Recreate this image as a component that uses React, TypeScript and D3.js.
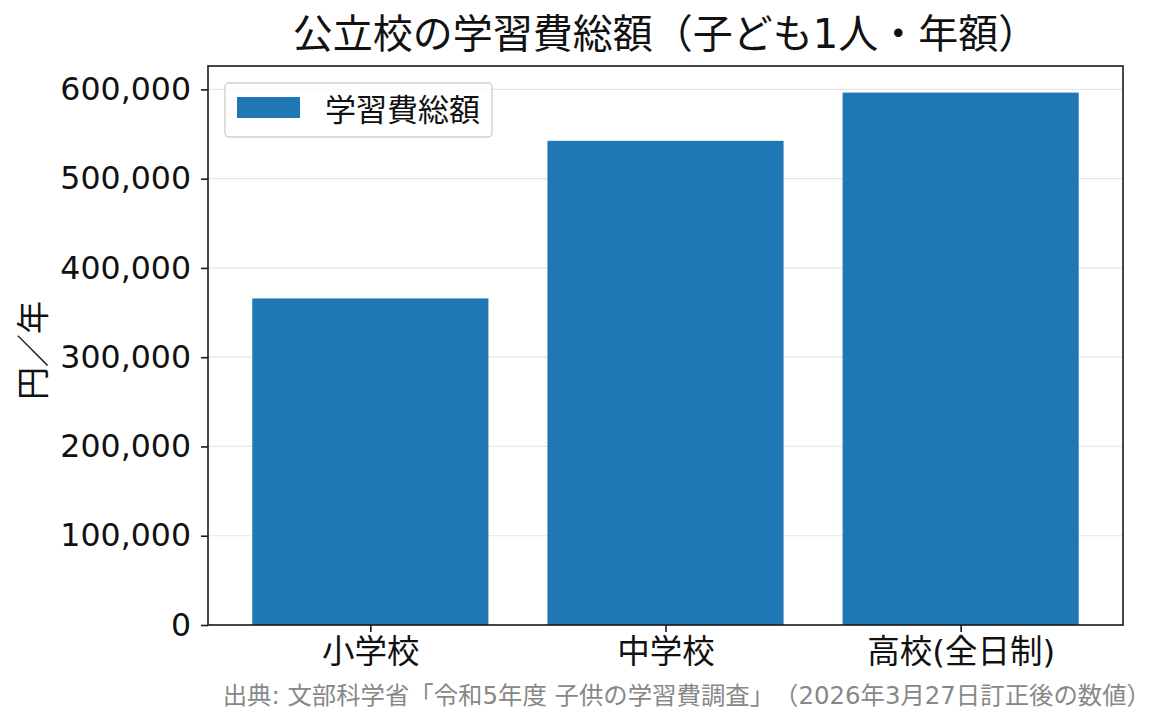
// @ts-nocheck

import React from 'react'
import * as d3 from 'd3'

const categories = ['小学校', '中学校', '高校(全日制)']
const totals = [365800, 542400, 596400]
const yTicks = [0, 100000, 200000, 300000, 400000, 500000, 600000]

const titleText = '公立校の学習費総額（子ども1人・年額）'
const yLabel = '円／年'
const legendLabel = '学習費総額'
const sourceText = '出典: 文部科学省「令和5年度 子供の学習費調査」（2026年3月27日訂正後の数値）'

const FONT = '"DejaVu Sans", "Noto Sans CJK JP", sans-serif'
const BLUE = '#1f77b4'

const App = () => {
  const svgRef = React.useRef(null)
  const width = 1165
  const height = 725
  const margin = { top: 66, right: 42, bottom: 100, left: 208 }
  const innerW = width - margin.left - margin.right
  const innerH = height - margin.top - margin.bottom

  React.useEffect(() => {
    const svgEl = d3.select(svgRef.current)
    svgEl.selectAll('*').remove()

    const xScale = d3.scaleLinear().domain([-0.55, categories.length - 0.45]).range([0, innerW])
    const yScale = d3
      .scaleLinear()
      .domain([0, d3.max(totals) * 1.05])
      .range([innerH, 0])

    svgEl.append('rect').attr('width', width).attr('height', height).attr('fill', '#fff')

    const svg = svgEl.append('g').attr('transform', `translate(${margin.left},${margin.top})`)

    // grid lines
    svg
      .selectAll('.grid')
      .data(yTicks)
      .enter()
      .append('line')
      .attr('x1', 0)
      .attr('x2', innerW)
      .attr('y1', (d) => yScale(d))
      .attr('y2', (d) => yScale(d))
      .attr('stroke', '#e6e6e6')
      .attr('stroke-width', 1.2)

    // bars
    const barW = xScale(0.8) - xScale(0)
    svg
      .selectAll('.bar')
      .data(totals)
      .enter()
      .append('rect')
      .attr('x', (d, i) => xScale(i) - barW / 2)
      .attr('y', (d) => yScale(d))
      .attr('width', barW)
      .attr('height', (d) => innerH - yScale(d))
      .attr('fill', BLUE)

    // y axis
    const yAxis = d3
      .axisLeft(yScale)
      .tickValues(yTicks)
      .tickSize(7)
      .tickPadding(10)
      .tickFormat(d3.format(','))
    const yAxisGroup = svg.append('g').call(yAxis)
    yAxisGroup.select('.domain').remove()
    yAxisGroup.selectAll('line').attr('stroke', '#1a1a1a').attr('stroke-width', 1.6)
    yAxisGroup
      .selectAll('text')
      .attr('font-family', FONT)
      .attr('font-size', 31.6)
      .attr('fill', '#111')

    // x axis
    const xAxis = d3
      .axisBottom(xScale)
      .tickValues(categories.map((c, i) => i))
      .tickSize(7)
      .tickPadding(8)
      .tickFormat((i) => categories[i])
    const xAxisGroup = svg.append('g').attr('transform', `translate(0,${innerH})`).call(xAxis)
    xAxisGroup.select('.domain').remove()
    xAxisGroup.selectAll('line').attr('stroke', '#1a1a1a').attr('stroke-width', 1.6)
    xAxisGroup
      .selectAll('text')
      .attr('font-family', FONT)
      .attr('font-size', 32.5)
      .attr('fill', '#111')

    // frame
    svg
      .append('rect')
      .attr('width', innerW)
      .attr('height', innerH)
      .attr('fill', 'none')
      .attr('stroke', '#1a1a1a')
      .attr('stroke-width', 1.6)

    // legend
    const legend = svg.append('g').attr('transform', 'translate(17,17)')
    legend
      .append('rect')
      .attr('width', 267)
      .attr('height', 54)
      .attr('rx', 4)
      .attr('fill', '#fff')
      .attr('fill-opacity', 0.8)
      .attr('stroke', '#d0d0d0')
      .attr('stroke-width', 1.4)
    legend
      .append('rect')
      .attr('x', 12)
      .attr('y', 14)
      .attr('width', 63)
      .attr('height', 21)
      .attr('fill', BLUE)
    legend
      .append('text')
      .attr('x', 100)
      .attr('y', 27)
      .attr('dy', '0.35em')
      .attr('font-family', FONT)
      .attr('font-size', 31)
      .attr('fill', '#111')
      .text(legendLabel)

    // title
    svgEl
      .append('text')
      .attr('x', margin.left + innerW / 2)
      .attr('y', 34)
      .attr('dy', '0.36em')
      .attr('text-anchor', 'middle')
      .attr('font-family', FONT)
      .attr('font-size', 40)
      .attr('fill', '#111')
      .text(titleText)

    // y label
    svgEl
      .append('text')
      .attr('transform', `translate(33,${margin.top + innerH / 2 + 5}) rotate(-90)`)
      .attr('text-anchor', 'middle')
      .attr('dy', '0.36em')
      .attr('font-family', FONT)
      .attr('font-size', 33)
      .attr('fill', '#111')
      .text(yLabel)

    // source
    svgEl
      .append('text')
      .attr('x', 1151)
      .attr('y', 695)
      .attr('dy', '0.36em')
      .attr('text-anchor', 'end')
      .attr('font-family', FONT)
      .attr('font-size', 24.4)
      .attr('fill', '#888')
      .text(sourceText)
  }, [])

  return (
    <svg
      ref={svgRef}
      width={width}
      height={height}
      style={{ position: 'absolute', left: 0, top: 0, textSpacingTrim: 'space-all' }}
    />
  )
}

export default App
